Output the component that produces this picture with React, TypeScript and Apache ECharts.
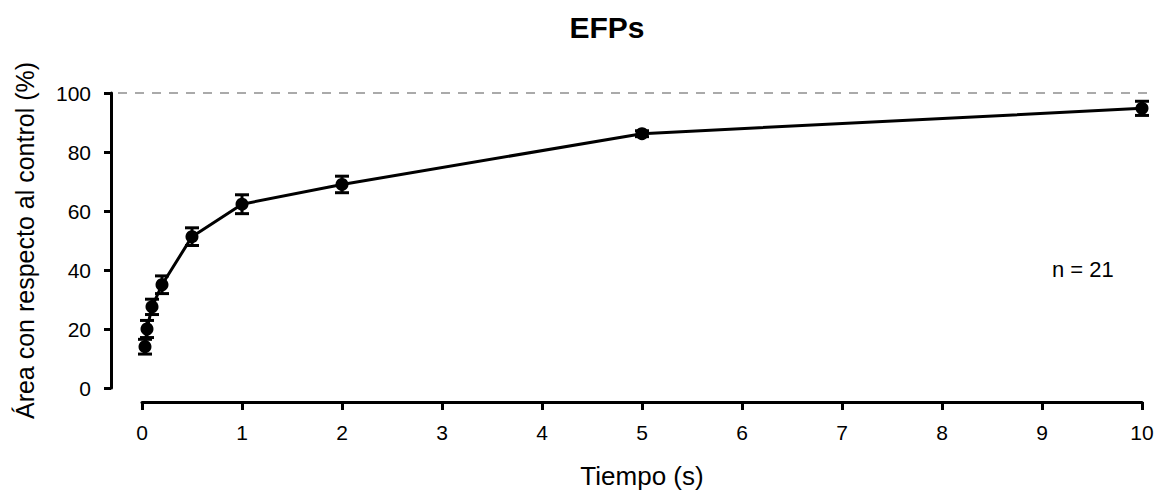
import React, { useEffect, useRef } from "react";
import * as echarts from "echarts";

const times = [0.03, 0.05, 0.1, 0.2, 0.5, 1, 2, 5, 10];
const areaMean = [14, 20, 27.5, 35, 51.3, 62.3, 69, 86.2, 94.8];
const areaSem = [2.5, 2.9, 2.6, 3, 3, 3.2, 2.8, 1, 2.4];
const xTickRange = { min: 0, max: 10, interval: 1 };
const yTickRange = { min: 0, max: 100, interval: 20 };
const refLineX = [-0.24, 10.06];
const refLineY = 100;

const FONT = "'Liberation Sans', Arial, Helvetica, sans-serif";

export default function App() {
  const ref = useRef<HTMLDivElement>(null);
  useEffect(() => {
    if (!ref.current) return;
    const chart = echarts.init(ref.current, null, { renderer: "svg" });
    const points = times.map((t, i) => [t, areaMean[i]]);
    const errData = times.map((t, i) => [t, areaMean[i], areaSem[i]]);
    const textGraphics = [
      {
        type: "text",
        x: 607,
        y: 27,
        style: {
          text: "EFPs",
          font: `bold 30px ${FONT}`,
          fill: "#000",
          textAlign: "center",
          textVerticalAlign: "middle",
        },
      },
      {
        type: "text",
        x: 1052,
        y: 269,
        style: {
          text: "n = 21",
          font: `22px ${FONT}`,
          fill: "#000",
          textAlign: "left",
          textVerticalAlign: "middle",
        },
      },
    ];
    chart.setOption({
      animation: false,
      backgroundColor: "#fff",
      textStyle: { fontFamily: FONT },
      grid: { left: 142, right: 20, top: 93, bottom: 104, containLabel: false },
      graphic: textGraphics,
      xAxis: {
        type: "value",
        ...xTickRange,
        offset: 14,
        name: "Tiempo (s)",
        nameLocation: "middle",
        nameGap: 61,
        nameTextStyle: { fontSize: 26, color: "#000", fontFamily: FONT },
        axisLine: { show: true, onZero: false, lineStyle: { color: "#000", width: 3 } },
        axisTick: { show: true, length: 8, lineStyle: { color: "#000", width: 3 } },
        axisLabel: { fontSize: 21, color: "#000", margin: 20, fontFamily: FONT },
        splitLine: { show: false },
      },
      yAxis: {
        type: "value",
        ...yTickRange,
        offset: 31,
        name: "Área con respecto al control (%)",
        nameLocation: "middle",
        nameGap: 74,
        nameTextStyle: { fontSize: 25, color: "#000", fontFamily: FONT },
        axisLine: { show: true, onZero: false, lineStyle: { color: "#000", width: 3 } },
        axisTick: { show: true, length: 7, lineStyle: { color: "#000", width: 3 } },
        axisLabel: { fontSize: 21, color: "#000", margin: 20, fontFamily: FONT },
        splitLine: { show: false },
      },
      series: [
        {
          type: "line",
          data: points,
          symbol: "circle",
          symbolSize: 13,
          clip: false,
          z: 3,
          itemStyle: { color: "#000" },
          lineStyle: { color: "#000", width: 3 },
        },
        {
          type: "custom",
          data: errData,
          clip: false,
          z: 4,
          renderItem: (params: any, api: any) => {
            const x = api.value(0);
            const y = api.value(1);
            const e = api.value(2);
            const top = api.coord([x, y + e]);
            const bot = api.coord([x, y - e]);
            const cap = 7;
            const style = { stroke: "#000", lineWidth: 3 };
            return {
              type: "group",
              children: [
                { type: "line", shape: { x1: top[0], y1: top[1], x2: bot[0], y2: bot[1] }, style },
                { type: "line", shape: { x1: top[0] - cap, y1: top[1], x2: top[0] + cap, y2: top[1] }, style },
                { type: "line", shape: { x1: bot[0] - cap, y1: bot[1], x2: bot[0] + cap, y2: bot[1] }, style },
              ],
            };
          },
        },
      ],
    });
    const p1 = chart.convertToPixel({ gridIndex: 0 }, [refLineX[0], refLineY]) as number[];
    const p2 = chart.convertToPixel({ gridIndex: 0 }, [refLineX[1], refLineY]) as number[];
    chart.setOption({
      graphic: [
        ...textGraphics,
        {
          type: "line",
          z: 1,
          shape: { x1: p1[0], y1: p1[1], x2: p2[0], y2: p2[1] },
          style: { stroke: "#aaaaaa", lineWidth: 2, lineDash: [9, 8] },
        },
      ],
    });
    return () => chart.dispose();
  }, []);
  return <div ref={ref} style={{ width: 1162, height: 494, position: "absolute", left: 0, top: 0 }} />;
}
